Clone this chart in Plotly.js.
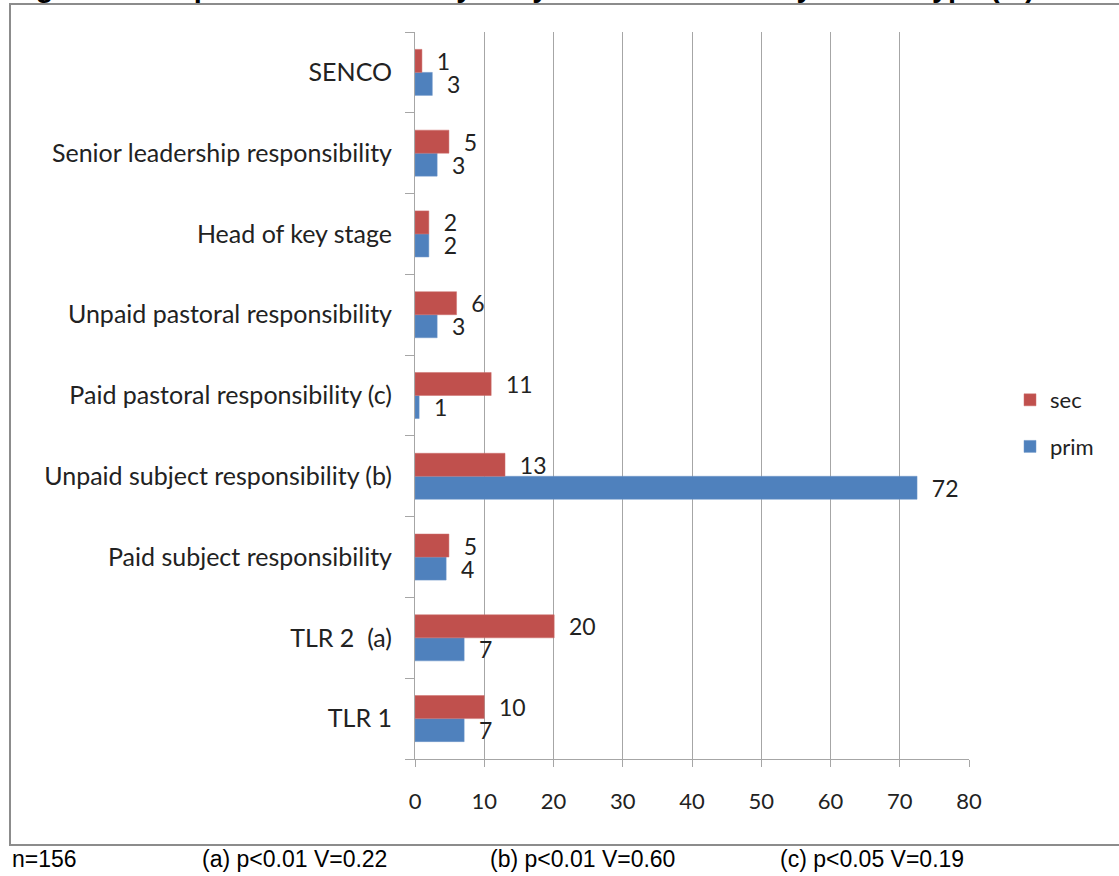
<!DOCTYPE html>
<html>
<head>
<meta charset="utf-8">
<script src="https://cdn.plot.ly/plotly-3.0.1.min.js"></script>
<style>html,body{margin:0;padding:0;background:#fff;}#chart{width:1119px;height:876px;}</style>
</head>
<body>
<div id="chart"></div>
<script>
// Categories, bottom to top
const categories = [
  "TLR 1",
  "TLR 2  (a)",
  "Paid subject responsibility",
  "Unpaid subject responsibility (b)",
  "Paid pastoral responsibility (c)",
  "Unpaid pastoral responsibility",
  "Head of key stage",
  "Senior leadership responsibility",
  "SENCO"
];
// Bar lengths (%)
const primValues = [7.1, 7.1, 4.5, 72.5, 0.6, 3.2, 2.0, 3.2, 2.5];
const secValues  = [10.0, 20.1, 4.9, 13.0, 11.0, 6.0, 2.0, 4.9, 1.0];
// Data labels as printed
const primLabels = ["7", "7", "4", "72", "1", "3", "2", "3", "3"];
const secLabels  = ["10", "20", "5", "13", "11", "6", "2", "5", "1"];
const xTicks = [0, 10, 20, 30, 40, 50, 60, 70, 80];
const titleText = "Figure 8: Responsibilities held by early career teachers by school type (%)";
const footnotes = ["n=156", "(a) p<0.01 V=0.22", "(b) p<0.01 V=0.60", "(c) p<0.05 V=0.19"];

const W = 1119, H = 876;
const L = 415, R = 969, T = 32, B = 759;
const px = x => (x - L) / (R - L);
const py = y => (B - y) / (B - T);
const pad = s => "\u00a0\u00a0" + s;
const FONT = "Lato, 'Open Sans', sans-serif";

const common = {
  type: "bar", orientation: "h", y: categories,
  textposition: "outside", cliponaxis: false, constraintext: "none",
  textfont: {family: FONT, size: 23, color: "#222"},
  hoverinfo: "skip"
};
const traces = [
  Object.assign({}, common, {
    name: "prim", x: primValues, text: primLabels.map(pad), legendgroup: "a", legendrank: 2,
    marker: {color: "#4F81BD", line: {color: "#6f96c8", width: 0.5}}
  }),
  Object.assign({}, common, {
    name: "sec", x: secValues, text: secLabels.map(pad), legendgroup: "b", legendrank: 1,
    marker: {color: "#C0504D", line: {color: "#cc6f6c", width: 0.5}}
  })
];

const footX = [10, 200, 488, 778];
const annotations = footnotes.map((t, i) => ({
  text: t, xref: "paper", yref: "paper", x: px(footX[i]), y: py(859),
  xanchor: "left", yanchor: "middle", showarrow: false,
  font: {family: "Arial, 'Liberation Sans', sans-serif", size: 23, color: "#000"}
}));
annotations.push({
  text: "<b>" + titleText + "</b>", xref: "paper", yref: "paper",
  x: px(8), y: py(5), xanchor: "left", yanchor: "bottom", showarrow: false,
  font: {family: "Arial, 'Liberation Sans', sans-serif", size: 29, color: "#000"}
});

const layout = {
  width: W, height: H,
  margin: {l: L, r: W - R, t: T, b: H - B, pad: 0},
  paper_bgcolor: "#fff", plot_bgcolor: "#fff",
  barmode: "group", bargap: 0.43, bargroupgap: 0,
  showlegend: true,
  legend: {
    x: px(1010), y: py(379), xanchor: "left", yanchor: "top",
    traceorder: "grouped", tracegroupgap: 15,
    font: {family: FONT, size: 22, color: "#222"},
    bgcolor: "rgba(0,0,0,0)"
  },
  xaxis: {
    range: [0, 80], tickvals: xTicks, ticktext: xTicks.map(String),
    showgrid: true, gridcolor: "#a6a6a6", gridwidth: 1,
    showline: true, linecolor: "#a6a6a6", linewidth: 1,
    ticks: "outside", ticklen: 7, tickcolor: "#a6a6a6",
    ticklabelstandoff: 16, zeroline: false,
    tickfont: {family: FONT, size: 22, color: "#222"},
    fixedrange: true
  },
  yaxis: {
    type: "category", categoryorder: "array", categoryarray: categories,
    showgrid: false, showline: true, linecolor: "#a6a6a6", linewidth: 1,
    ticks: "outside", ticklen: 9, tickcolor: "#a6a6a6", tickson: "boundaries",
    ticklabelstandoff: 17,
    tickfont: {family: FONT, size: 25, color: "#222"},
    fixedrange: true
  },
  shapes: [{
    type: "rect", xref: "paper", yref: "paper", layer: "below",
    x0: px(10), x1: px(1130), y0: py(845), y1: py(4),
    line: {color: "#8c8c8c", width: 2}, fillcolor: "rgba(0,0,0,0)"
  }],
  annotations: annotations
};

Plotly.newPlot("chart", traces, layout, {staticPlot: true, displayModeBar: false});
</script>
</body>
</html>
